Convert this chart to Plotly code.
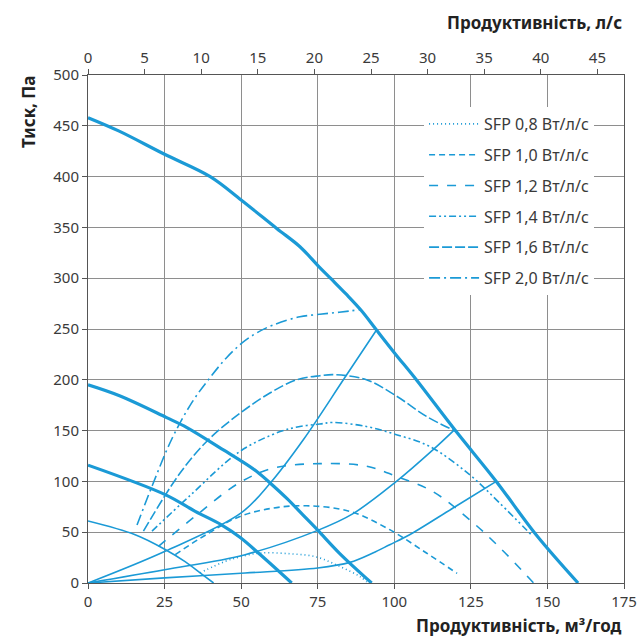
import plotly.graph_objects as go

BLUE = "#1b9ad6"
FONT = "Noto Sans"

# ---- Fan curves (flow m3/h, pressure Pa) ----
fan1_x = [0, 10, 25, 39.9, 50, 61.6, 69.2, 75.2, 79.5, 84.4, 89.3, 94.2, 100.2, 107.2, 119.7, 133.3, 146.3, 160]
fan1_y = [458, 445, 422, 400, 377, 349, 331, 312, 299, 284, 268, 249, 226, 200, 151, 100, 47.5, 0]

fan2_x = [0, 10.5, 25.5, 32.3, 44.2, 49.6, 55, 60, 65, 70, 75, 82.2, 92.6]
fan2_y = [195, 184, 163, 153, 131, 121, 110, 97, 83, 67.5, 52, 29, 0]

fan3_x = [0, 25.2, 35, 43.7, 49.6, 56.2, 66.5]
fan3_y = [116, 87, 70.5, 57, 45, 28, 0]

fan4_x = [0, 15.4, 25.2, 31.7, 36.6, 41]
fan4_y = [61, 47.5, 33, 21, 10, 0]

# ---- System curves ----
sysA_x = [0, 25, 50, 59.4, 70.3, 83.7, 94.2]
sysA_y = [0, 31, 69, 98, 141, 201.5, 249]

sysB_x = [0, 25, 51.3, 75, 86.4, 100.7, 112.6, 119.7]
sysB_y = [0, 13, 27.9, 51.8, 68, 100, 131, 151]

sysC_x = [0, 25, 51.3, 75, 85.5, 93, 98.5, 105, 119.2, 133.3]
sysC_y = [0, 5, 9.8, 14.8, 20.3, 29.5, 37.7, 47.5, 73.8, 100]

# ---- SFP curves ----
sfp_names = ["SFP 0,8 Вт/л/с", "SFP 1,0 Вт/л/с", "SFP 1,2 Вт/л/с",
             "SFP 1,4 Вт/л/с", "SFP 1,6 Вт/л/с", "SFP 2,0 Вт/л/с"]
sfp08_x = [36.6, 44.8, 50, 56.2, 65.9, 74.6, 82.2, 88.7, 91]
sfp08_y = [10, 21.3, 26, 29.5, 28.8, 25.6, 16.3, 6.5, 1]
sfp10_x = [28.5, 38.8, 49.6, 60.5, 71.4, 85.5, 98.5, 110.5, 120.5]
sfp10_y = [28, 48, 65.5, 73.8, 76, 70.5, 52.5, 29.5, 9.5]
sfp12_x = [23, 35.5, 49.6, 60.5, 75.7, 90.9, 100.7, 112.6, 124.6, 134.4, 145.5]
sfp12_y = [36, 67, 99, 113, 117.5, 115, 105, 90, 62.3, 35, 0]
sfp14_x = [20.9, 33.3, 49.6, 62.7, 69.2, 75.7, 80, 90.9, 100.7, 111.6, 124.6, 134.4, 145.2]
sfp14_y = [51, 86, 129.5, 149, 154, 156.5, 158, 154, 146, 134.4, 106.6, 78.7, 46]
sfp16_x = [18.1, 30, 39.3, 49.6, 59.4, 68.1, 75.7, 80.6, 90.9, 100.7, 110.5, 120.3]
sfp16_y = [51, 108, 141, 167, 187, 200, 204, 205, 200, 184, 164, 149]
sfp20_x = [16, 21, 27.4, 34, 39.3, 45, 50.2, 55, 60.5, 69.2, 75.7, 82, 88.8]
sfp20_y = [57, 96, 142, 178, 200, 221, 236, 246, 254, 262, 264.5, 266.5, 269]

sfp_x = [sfp08_x, sfp10_x, sfp12_x, sfp14_x, sfp16_x, sfp20_x]
sfp_y = [sfp08_y, sfp10_y, sfp12_y, sfp14_y, sfp16_y, sfp20_y]
sfp_dash = ["1px,3px", "6px,4px", "9px,9px", "7px,3px,2px,3px,2px,3px", "10px,3px", "11px,4px,2px,4px"]

# ---- Axis ticks ----
x_ticks = [0, 25, 50, 75, 100, 125, 150, 175]
y_ticks = [0, 50, 100, 150, 200, 250, 300, 350, 400, 450, 500]
x2_ticks = [0, 5, 10, 15, 20, 25, 30, 35, 40, 45]

fig = go.Figure()

for xs, ys in [(sysA_x, sysA_y), (sysB_x, sysB_y), (sysC_x, sysC_y), (fan4_x, fan4_y)]:
    fig.add_trace(go.Scatter(x=xs, y=ys, mode="lines", line=dict(color=BLUE, width=1.6, shape="spline"),
                             showlegend=False, hoverinfo="skip"))

for i, name in enumerate(sfp_names):
    fig.add_trace(go.Scatter(x=sfp_x[i], y=sfp_y[i], mode="lines", name=name, legendgroup=name,
                             line=dict(color=BLUE, width=1.6, dash=sfp_dash[i], shape="spline")))

for xs, ys in [(fan1_x, fan1_y), (fan2_x, fan2_y), (fan3_x, fan3_y)]:
    fig.add_trace(go.Scatter(x=xs, y=ys, mode="lines", line=dict(color=BLUE, width=3.2, shape="spline"),
                             showlegend=False, hoverinfo="skip"))

# dummy trace for top axis
fig.add_trace(go.Scatter(x=[0], y=[None], xaxis="x2", mode="lines", showlegend=False, hoverinfo="skip"))

axis_common = dict(showline=True, linecolor="#555555", linewidth=1, ticks="outside", ticklen=5,
                   tickcolor="#555555", zeroline=False, ticklabeloverflow="allow", automargin=False,
                   tickfont=dict(family=FONT, size=15, color="#3a3a3a"))

fig.update_layout(
    width=638, height=637,
    margin=dict(l=88, r=14, t=75, b=54, autoexpand=False),
    plot_bgcolor="white", paper_bgcolor="white",
    font=dict(family=FONT, color="#333333"),
    xaxis=dict(range=[0, 175], tickvals=x_ticks, showgrid=True, gridcolor="#8e8e8e", gridwidth=1,
               mirror=True, **axis_common),
    yaxis=dict(range=[0, 500], tickvals=y_ticks, showgrid=True, gridcolor="#8e8e8e", gridwidth=1,
               mirror=True, **axis_common),
    xaxis2=dict(range=[0, 47.35], tickvals=x2_ticks, overlaying="x", side="top", anchor="y",
                showgrid=False, **axis_common),
    legend=dict(x=0.627, y=0.937, xanchor="left", yanchor="top", bgcolor="white", borderwidth=0,
                font=dict(family=FONT, size=16, color="#3a3a3a"), tracegroupgap=7, itemwidth=50,
                traceorder="grouped"),
    annotations=[
        dict(text="<b>Продуктивність, л/с</b>", xref="paper", yref="paper", x=1.0, y=1.104,
             xanchor="right", yanchor="middle", showarrow=False, font=dict(family=FONT, size=17, color="#222222")),
        dict(text="<b>Продуктивність, м³/год</b>", xref="paper", yref="paper", x=1.0, y=-0.083,
             xanchor="right", yanchor="middle", showarrow=False, font=dict(family=FONT, size=17, color="#222222")),
        dict(text="<b>Тиск, Па</b>", xref="paper", yref="paper", x=-0.112, y=0.929, textangle=-90,
             xanchor="center", yanchor="middle", showarrow=False, font=dict(family=FONT, size=17, color="#222222")),
    ],
)

# remove the default page margin so the 638x637 figure fills the window exactly
fig.write_html("out.html", config={"displayModeBar": False},
               post_script="document.body.style.margin='0';document.body.style.overflow='hidden';")
